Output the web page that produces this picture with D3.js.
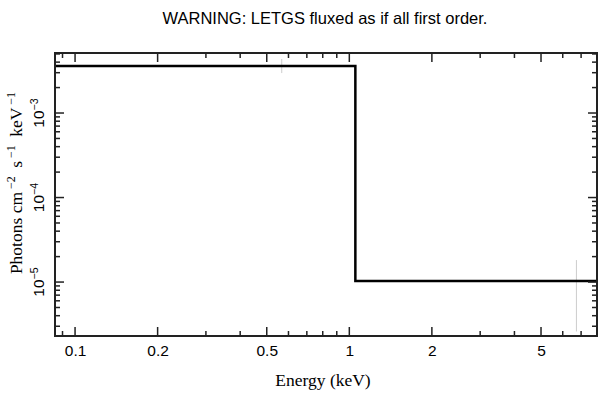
<!DOCTYPE html>
<html><head><meta charset="utf-8">
<script src="https://cdn.jsdelivr.net/npm/d3@7"></script>
<style>body{margin:0;background:#fff}</style>
</head><body>
<svg id="c" width="609" height="399"></svg>
<script>
const titleText = "WARNING: LETGS fluxed as if all first order.";
const xDomain = [0.0845, 8.0];
const yDomain = [2.30e-6, 5.13e-3];
const binEdges = [0.0845, 1.052, 8.0];
const binValues = [3.6e-3, 1.03e-5];
const errE = [0.567, 6.73];
const errLo = [2.97e-3, 2.6e-6];
const errHi = [4.36e-3, 1.82e-5];
const xTickLabels = [0.1, 0.2, 0.5, 1, 2, 5];
const yTickExps = [-3, -4, -5];

const L = 55, R = 597, T = 53, B = 336;
const svg = d3.select("#c");
const x = d3.scaleLog().domain(xDomain).range([L, R]);
const y = d3.scaleLog().domain(yDomain).range([B, T]);
const SANS = "Liberation Sans, Arial, sans-serif";
const SERIF = "Liberation Serif, Times New Roman, serif";

svg.append("text").attr("x", 325).attr("y", 24).attr("text-anchor", "middle")
  .attr("font-family", SANS).attr("font-size", 16.5).text(titleText);

// error bars (faint)
errE.forEach((e, i) => {
  svg.append("line").attr("x1", x(e)).attr("x2", x(e)).attr("y1", y(errHi[i])).attr("y2", Math.min(B, y(errLo[i])))
    .attr("stroke", "#ccc").attr("stroke-width", 1);
});

// step line
const pts = [];
binValues.forEach((v, i) => { pts.push([binEdges[i], v]); pts.push([binEdges[i + 1], v]); });
svg.append("path").attr("d", d3.line().x(d => x(d[0])).y(d => y(d[1]))(pts))
  .attr("fill", "none").attr("stroke", "#000").attr("stroke-width", 2.5);

// frame
svg.append("rect").attr("x", L).attr("y", T).attr("width", R - L).attr("height", B - T)
  .attr("fill", "none").attr("stroke", "#222").attr("stroke-width", 2);

// x ticks
const xMinor = [];
for (let d = 0.01; d < 10; d *= 10) for (let m = 1; m < 10; m++) {
  const v = +(m * d).toPrecision(3);
  if (v >= xDomain[0] && v <= xDomain[1]) xMinor.push(v);
}
xMinor.forEach(v => {
  const major = xTickLabels.includes(v);
  const len = major ? 9 : 5;
  svg.append("line").attr("x1", x(v)).attr("x2", x(v)).attr("y1", B).attr("y2", B - len).attr("stroke", "#222").attr("stroke-width", 1.5);
  svg.append("line").attr("x1", x(v)).attr("x2", x(v)).attr("y1", T).attr("y2", T + len).attr("stroke", "#222").attr("stroke-width", 1.5);
});
const xAxis = d3.axisBottom(x).tickValues(xTickLabels).tickSize(0).tickPadding(9).tickFormat(d => String(d));
const gx = svg.append("g").attr("transform", `translate(0,${B})`).call(xAxis);
gx.select(".domain").remove();
gx.selectAll("text").attr("font-family", SANS).attr("font-size", 15.5).attr("fill", "#000");

// y ticks
const yMinor = [];
for (let e = -6; e <= -2; e++) for (let m = 1; m < 10; m++) {
  const v = m * Math.pow(10, e);
  if (v >= yDomain[0] && v <= yDomain[1]) yMinor.push([v, m === 1]);
}
yMinor.forEach(([v, major]) => {
  const len = major ? 9 : 5;
  svg.append("line").attr("x1", L).attr("x2", L + len).attr("y1", y(v)).attr("y2", y(v)).attr("stroke", "#222").attr("stroke-width", 1.5);
  svg.append("line").attr("x1", R).attr("x2", R - len).attr("y1", y(v)).attr("y2", y(v)).attr("stroke", "#222").attr("stroke-width", 1.5);
});
yTickExps.forEach(e => {
  const t = svg.append("text").attr("transform", `translate(44,${y(Math.pow(10, e))}) rotate(-90)`)
    .attr("text-anchor", "middle").attr("font-family", SANS).attr("font-size", 15.5);
  t.append("tspan").text("10");
  t.append("tspan").attr("dy", -6).attr("font-size", 10.5).text("\u2212" + Math.abs(e));
});

// axis labels
svg.append("text").attr("x", 323).attr("y", 386).attr("text-anchor", "middle")
  .attr("font-family", SERIF).attr("font-size", 17.5).text("Energy (keV)");
const yl = svg.append("text").attr("transform", `translate(22,183) rotate(-90)`).attr("text-anchor", "middle")
  .attr("font-family", SERIF).attr("font-size", 17.5);
yl.append("tspan").text("Photons cm");
yl.append("tspan").attr("dx", 3).attr("dy", -7).attr("font-size", 12).text("\u22122");
yl.append("tspan").attr("dx", 4).attr("dy", 7).text(" s");
yl.append("tspan").attr("dx", 3).attr("dy", -7).attr("font-size", 12).text("\u22121");
yl.append("tspan").attr("dx", 4).attr("dy", 7).text(" keV");
yl.append("tspan").attr("dx", 3).attr("dy", -7).attr("font-size", 12).text("\u22121");
</script>
</body></html>
